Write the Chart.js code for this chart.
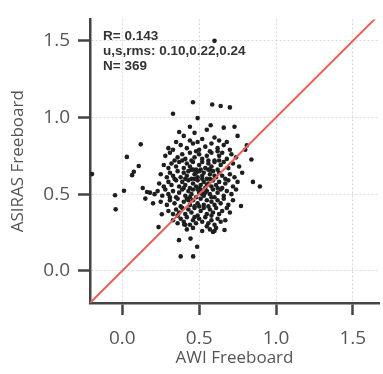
<!DOCTYPE html>
<html>
<head>
<meta charset="utf-8">
<script src="https://cdn.jsdelivr.net/npm/chart.js@4.4.1/dist/chart.umd.min.js"></script>
<style>
  html, body { margin: 0; padding: 0; background: #fff; }
  #wrap { width: 383px; height: 374px; }
</style>
</head>
<body>
<div id="wrap"><canvas id="canvas" width="383" height="374"></canvas></div>
<script>
// tick values shown on both axes
const xTickValues = [0.0, 0.5, 1.0, 1.5];
const yTickValues = [0.0, 0.5, 1.0, 1.5];

// scattered points away from the main cloud
const awiOutlier = [0.60, 0.46, 0.585, 0.64, 0.70, 0.33, 0.49, 0.575, 0.66, 0.73, 0.44, 0.37, 0.75, 0.12, 0.81, 0.80, 0.03, 0.84, 0.107, 0.075, 0.064, -0.197, 0.85, 0.895, 0.011, -0.047, -0.043, 0.133, 0.161, 0.15, 0.20, 0.257, 0.236, 0.772, 0.369, 0.444, 0.487, 0.38, 0.461, 0.665, 0.59, 0.403, 0.60];
const asirasOutlier = [1.50, 1.10, 1.085, 1.075, 1.066, 1.025, 0.996, 0.95, 0.934, 0.94, 0.94, 0.905, 0.88, 0.825, 0.818, 0.79, 0.743, 0.726, 0.684, 0.646, 0.624, 0.631, 0.58, 0.55, 0.522, 0.493, 0.401, 0.54, 0.514, 0.471, 0.44, 0.369, 0.285, 0.423, 0.20, 0.21, 0.157, 0.094, 0.094, 0.266, 0.253, 0.302, 0.26];

// main cloud, read band by band from the top
const awiCluster = [
  0.40, 0.47, 0.52, 0.60, 0.55, 0.63, 0.44,
  0.33, 0.38, 0.42, 0.46, 0.50, 0.54, 0.58, 0.62, 0.66, 0.70, 0.35, 0.49, 0.57, 0.68, 0.30,
  0.28, 0.31, 0.36, 0.39, 0.41, 0.44, 0.47, 0.50, 0.52, 0.55, 0.58, 0.60, 0.63, 0.65, 0.68, 0.71, 0.74, 0.34, 0.45, 0.56, 0.62, 0.48,
  0.27, 0.30, 0.32, 0.35, 0.37, 0.40, 0.42, 0.44, 0.46, 0.48, 0.50, 0.52, 0.54, 0.56, 0.58, 0.60, 0.62, 0.64, 0.66, 0.69, 0.72, 0.76, 0.39, 0.51, 0.57, 0.63, 0.45,
  0.25, 0.29, 0.31, 0.33, 0.36, 0.38, 0.40, 0.42, 0.43, 0.45, 0.47, 0.49, 0.50, 0.52, 0.53, 0.55, 0.57, 0.59, 0.61, 0.63, 0.65, 0.67, 0.70, 0.73, 0.78, 0.34, 0.46, 0.56, 0.60, 0.48, 0.41,
  0.24, 0.27, 0.30, 0.32, 0.35, 0.37, 0.39, 0.41, 0.43, 0.44, 0.46, 0.48, 0.49, 0.51, 0.53, 0.54, 0.56, 0.58, 0.59, 0.61, 0.63, 0.65, 0.67, 0.69, 0.72, 0.75, 0.52, 0.47, 0.57, 0.40, 0.62, 0.50, 0.55,
  0.18, 0.21, 0.23, 0.26, 0.28, 0.30, 0.33, 0.35, 0.37, 0.39, 0.41, 0.43, 0.45, 0.46, 0.48, 0.50, 0.51, 0.53, 0.55, 0.57, 0.59, 0.60, 0.62, 0.64, 0.66, 0.68, 0.71, 0.74, 0.31, 0.44, 0.52, 0.58, 0.49, 0.54,
  0.25, 0.29, 0.31, 0.34, 0.36, 0.38, 0.40, 0.42, 0.44, 0.46, 0.47, 0.49, 0.51, 0.53, 0.55, 0.56, 0.58, 0.60, 0.62, 0.64, 0.66, 0.69, 0.72, 0.50, 0.43,
  0.30, 0.33, 0.35, 0.37, 0.39, 0.41, 0.43, 0.45, 0.47, 0.49, 0.51, 0.53, 0.55, 0.57, 0.59, 0.61, 0.63, 0.65, 0.68, 0.70, 0.36, 0.58,
  0.33, 0.36, 0.38, 0.40, 0.42, 0.44, 0.46, 0.48, 0.50, 0.52, 0.54, 0.56, 0.58, 0.60, 0.62, 0.64, 0.67, 0.41, 0.47,
  0.42, 0.46, 0.52, 0.55, 0.57, 0.61
];
const asirasCluster = [
  0.88, 0.90, 0.86, 0.87, 0.92, 0.85, 0.85,
  0.79, 0.82, 0.80, 0.83, 0.79, 0.81, 0.83, 0.80, 0.82, 0.79, 0.84, 0.84, 0.78, 0.84, 0.80,
  0.75, 0.77, 0.74, 0.76, 0.73, 0.77, 0.74, 0.76, 0.73, 0.75, 0.77, 0.72, 0.75, 0.77, 0.73, 0.76, 0.74, 0.72, 0.72, 0.72, 0.78, 0.78,
  0.69, 0.67, 0.70, 0.68, 0.71, 0.67, 0.70, 0.68, 0.71, 0.66, 0.69, 0.71, 0.67, 0.70, 0.68, 0.71, 0.66, 0.69, 0.71, 0.67, 0.70, 0.68, 0.72, 0.66, 0.66, 0.72, 0.66,
  0.63, 0.61, 0.64, 0.62, 0.65, 0.61, 0.64, 0.62, 0.65, 0.60, 0.63, 0.61, 0.65, 0.62, 0.64, 0.60, 0.63, 0.65, 0.61, 0.64, 0.62, 0.60, 0.63, 0.61, 0.64, 0.60, 0.66, 0.66, 0.62, 0.64, 0.60,
  0.57, 0.55, 0.58, 0.56, 0.59, 0.55, 0.58, 0.56, 0.59, 0.54, 0.57, 0.55, 0.59, 0.56, 0.58, 0.54, 0.57, 0.55, 0.59, 0.56, 0.58, 0.54, 0.57, 0.59, 0.55, 0.58, 0.60, 0.60, 0.60, 0.54, 0.54, 0.54, 0.56,
  0.51, 0.50, 0.52, 0.49, 0.53, 0.50, 0.52, 0.48, 0.51, 0.53, 0.49, 0.52, 0.50, 0.53, 0.48, 0.51, 0.53, 0.49, 0.52, 0.50, 0.53, 0.48, 0.51, 0.53, 0.49, 0.52, 0.50, 0.53, 0.48, 0.48, 0.50, 0.48, 0.53, 0.51,
  0.45, 0.43, 0.46, 0.44, 0.47, 0.42, 0.45, 0.47, 0.43, 0.46, 0.42, 0.44, 0.47, 0.43, 0.46, 0.42, 0.45, 0.43, 0.46, 0.44, 0.47, 0.43, 0.46, 0.42, 0.46,
  0.39, 0.37, 0.40, 0.38, 0.41, 0.37, 0.40, 0.38, 0.41, 0.36, 0.39, 0.41, 0.37, 0.40, 0.38, 0.41, 0.37, 0.39, 0.41, 0.38, 0.36, 0.36,
  0.33, 0.31, 0.34, 0.32, 0.35, 0.30, 0.33, 0.31, 0.34, 0.32, 0.35, 0.31, 0.33, 0.30, 0.34, 0.32, 0.33, 0.30, 0.35,
  0.27, 0.28, 0.26, 0.29, 0.27, 0.28
];

// 1:1 reference line endpoints
const lineX = [-0.21, 1.70];
const lineY = [-0.21, 1.70];

const statLines = ["R= 0.143", "u,s,rms: 0.10,0.22,0.24", "N= 369"];

const xLimits = [-0.21, 1.67];
const yLimits = [-0.21, 1.64];

const points = [];
awiOutlier.forEach((x, i) => points.push({ x: x, y: asirasOutlier[i] }));
awiCluster.forEach((x, i) => points.push({ x: x, y: asirasCluster[i] }));

const statsText = {
    id: "statsText",
    afterDraw(chart) {
        const ctx = chart.ctx;
        ctx.save();
        ctx.font = "bold 13.5px 'Liberation Sans', Arial, sans-serif";
        ctx.fillStyle = "#333";
        ctx.textBaseline = "middle";
        statLines.forEach((t, i) => ctx.fillText(t, 103, 36 + i * 15));
        ctx.restore();
    }
};

const axisColor = "#555";
const tickFont = { family: "'Open Sans', 'Noto Sans', sans-serif", size: 19 };
const titleFont = { family: "'Open Sans', 'Noto Sans', sans-serif", size: 17 };

new Chart(document.getElementById("canvas"), {
    type: "scatter",
    data: {
        datasets: [
            {
                type: "line",
                data: lineX.map((x, i) => ({ x: x, y: lineY[i] })),
                borderColor: "#e8625a",
                borderWidth: 2,
                pointRadius: 0,
                fill: false,
                order: 0,
            },
            {
                data: points,
                backgroundColor: "#1e1e1e",
                borderWidth: 0,
                pointRadius: 2.3,
                order: 1,
            },
        ],
    },
    options: {
        responsive: false,
        animation: false,
        layout: { padding: { top: 13, right: 0, left: 0, bottom: 0 } },
        plugins: { legend: { display: false }, tooltip: { enabled: false } },
        scales: {
            x: {
                type: "linear",
                min: xLimits[0],
                max: xLimits[1],
                afterBuildTicks: (s) => { s.ticks = xTickValues.map(v => ({ value: v })); },
                afterFit: (s) => { s.height = 71; },
                ticks: { color: axisColor, font: tickFont, padding: 12, callback: (v) => v.toFixed(1), maxRotation: 0 },
                grid: { color: "#dadada", tickColor: "#444", tickLength: 12, tickWidth: 2.5, lineWidth: 1 },
                border: { color: "#444", width: 2.5, dash: [2, 2] },
                title: { display: true, text: "AWI Freeboard", color: axisColor, font: titleFont, padding: { top: 0, bottom: 6 } },
            },
            y: {
                type: "linear",
                min: yLimits[0],
                max: yLimits[1],
                afterBuildTicks: (s) => { s.ticks = yTickValues.map(v => ({ value: v })); },
                afterFit: (s) => { s.width = 90; },
                ticks: { color: axisColor, font: tickFont, padding: 8, callback: (v) => v.toFixed(1) },
                grid: { color: "#dadada", tickColor: "#444", tickLength: 12, tickWidth: 2.5, lineWidth: 1 },
                border: { color: "#444", width: 2.5, dash: [2, 2] },
                title: { display: true, text: "ASIRAS Freeboard", color: axisColor, font: titleFont, padding: { top: 8, bottom: 0 } },
            },
        },
    },
    plugins: [statsText],
});
</script>
</body>
</html>
